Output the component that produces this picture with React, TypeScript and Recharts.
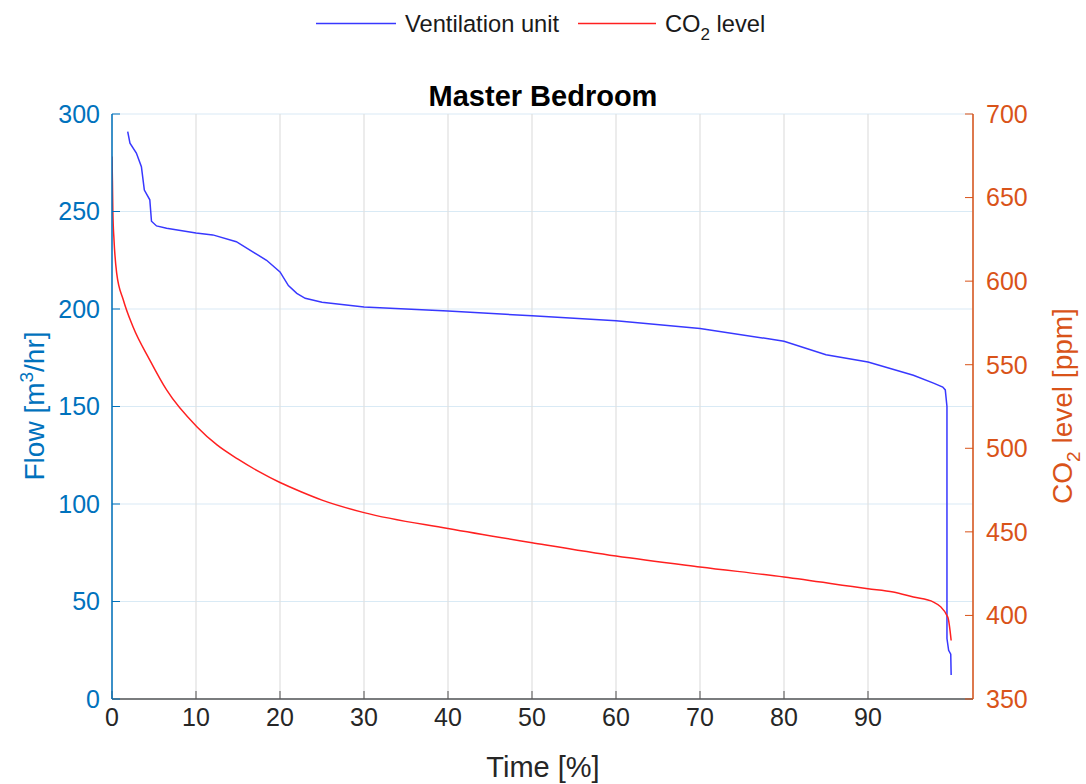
import React from 'react';
import { LineChart, Line, XAxis, YAxis, CartesianGrid } from 'recharts';

// axis ticks
const timeTicks = [0, 10, 20, 30, 40, 50, 60, 70, 80, 90];
const flowTicks = [0, 50, 100, 150, 200, 250, 300];
const co2Ticks = [350, 400, 450, 500, 550, 600, 650, 700];

// ventilation unit flow [m3/hr] vs time [%]
const flowTime = [1.87, 2.14, 2.9, 3.5, 3.85, 4.5, 4.7, 5.3, 6.5, 10, 12, 14.8, 18.4, 20, 21, 22, 23, 25, 30, 40, 50, 60, 70, 80, 85, 90, 95.4, 97.8, 98.9, 99.2, 99.4, 99.4, 99.6, 99.85, 99.9];
const flowValues = [291, 285, 280, 273, 261, 256, 245, 242.6, 241.4, 239, 238, 234.5, 225, 219, 212, 208, 205.5, 203.5, 201, 199, 196.5, 194, 190, 183.5, 176.5, 172.8, 166, 162, 160, 158.5, 150, 31, 25, 23, 12.3];

// CO2 level [ppm] vs time [%]
const co2Time = [0, 0.05, 0.1, 0.24, 0.56, 1.35, 2.5, 4.5, 6.5, 10.1, 12.5, 15, 17.5, 20, 22.5, 25, 30, 40, 50, 60, 70, 80, 90, 93, 95.4, 97.8, 99.5, 99.9];
const co2Values = [674.5, 660, 642, 624.6, 604.7, 588.7, 572.7, 552.8, 534.9, 512.9, 502, 493.5, 486, 479.5, 474, 469, 461.5, 452, 443.5, 435.5, 429, 423, 416, 414, 411, 408, 399, 385];

const flowData = flowTime.map((t, i) => ({ t, flow: flowValues[i] }));
const co2Data = co2Time.map((t, i) => ({ t, co2: co2Values[i] }));

const BLUE_AX = '#0072BD';
const ORANGE_AX = '#D95319';
const FONT = '"Liberation Sans", Arial, Helvetica, sans-serif';

const Overlay = () => (
  <svg width={1086} height={784} style={{ position: 'absolute', left: 0, top: 0, pointerEvents: 'none' }} fontFamily={FONT}>
    {/* legend */}
    <line x1={316} x2={396} y1={23.5} y2={23.5} stroke="#3838ff" strokeWidth={1.5} />
    <text x={405} y={32} fontSize={23.7} fill="#1a1a1a">Ventilation unit</text>
    <line x1={578} x2={656} y1={23.5} y2={23.5} stroke="#ff2020" strokeWidth={1.5} />
    <text x={665} y={32} fontSize={23.7} fill="#1a1a1a">
      CO<tspan fontSize={17} dy={8}>2</tspan><tspan dy={-8}> level</tspan>
    </text>
    {/* title */}
    <text x={543} y={106} fontSize={29} fontWeight="bold" textAnchor="middle" fill="#000">Master Bedroom</text>
    {/* axis labels */}
    <text x={543} y={777} fontSize={29} textAnchor="middle" fill="#262626">Time [%]</text>
    <text transform="translate(44,406) rotate(-90)" fontSize={28} textAnchor="middle" fill={BLUE_AX}>
      Flow [m<tspan fontSize={19} dy={-11}>3</tspan><tspan dy={11}>/hr]</tspan>
    </text>
    <text transform="translate(1072,406) rotate(-90)" fontSize={28} textAnchor="middle" fill={ORANGE_AX}>
      CO<tspan fontSize={19} dy={8}>2</tspan><tspan dy={-8}> level [ppm]</tspan>
    </text>
  </svg>
);

export default function App() {
  return (
    <div style={{ position: 'absolute', left: 0, top: 0, width: 1086, height: 784, background: '#fff', fontFamily: FONT }}>
      <LineChart width={1086} height={784} margin={{ top: 114, right: 53, bottom: 45, left: 52 }}>
        <CartesianGrid yAxisId="flow" vertical={false} stroke="#d9eaf5" strokeWidth={1.2} />
        <CartesianGrid yAxisId="flow" horizontal={false} stroke="#e0e0e0" strokeWidth={1.2} />
        <XAxis
          dataKey="t"
          type="number"
          domain={[0, 102.5]}
          ticks={timeTicks}
          allowDataOverflow
          height={40}
          tickSize={-8}
          tickMargin={17}
          axisLine={{ stroke: '#555', strokeWidth: 1.5 }}
          tickLine={{ stroke: '#555' }}
          tick={{ fontSize: 25, fill: '#262626' }}
        />
        <YAxis
          yAxisId="flow"
          orientation="left"
          domain={[0, 300]}
          ticks={flowTicks}
          width={60}
          tickSize={-8}
          tickMargin={20}
          axisLine={{ stroke: BLUE_AX, strokeWidth: 1.5 }}
          tickLine={{ stroke: BLUE_AX }}
          tick={{ fontSize: 25, fill: BLUE_AX }}
        />
        <YAxis
          yAxisId="co2"
          orientation="right"
          domain={[350, 700]}
          ticks={co2Ticks}
          width={60}
          tickSize={-8}
          tickMargin={21}
          axisLine={{ stroke: ORANGE_AX, strokeWidth: 1.5 }}
          tickLine={{ stroke: ORANGE_AX }}
          tick={{ fontSize: 25, fill: ORANGE_AX }}
        />
        <Line
          yAxisId="flow"
          data={flowData}
          dataKey="flow"
          type="linear"
          stroke="#3838ff"
          strokeWidth={1.5}
          dot={false}
          isAnimationActive={false}
        />
        <Line
          yAxisId="co2"
          data={co2Data}
          dataKey="co2"
          type="monotone"
          stroke="#ff2020"
          strokeWidth={1.5}
          dot={false}
          isAnimationActive={false}
        />
      </LineChart>
      <Overlay />
    </div>
  );
}
